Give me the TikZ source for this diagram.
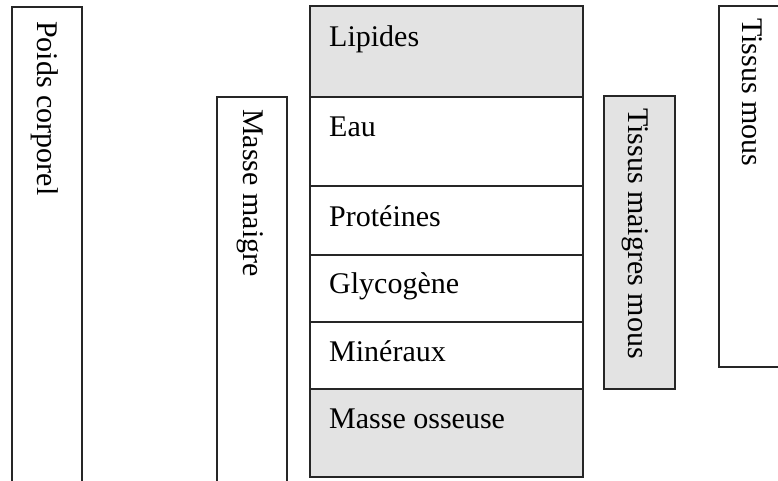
\documentclass[tikz,border=0pt]{standalone}
\usepackage{fontspec}
\setmainfont{Liberation Serif}
\begin{document}
\begin{tikzpicture}[x=1pt,y=-1pt,
  frame/.style={draw=black!85,line width=1.6pt},
  shaded/.style={frame,fill=black!11},
  vlabel/.style={rotate=-90,anchor=base west,inner sep=0pt,font=\fontsize{30}{30}\selectfont},
  hlabel/.style={anchor=base west,inner sep=0pt,font=\fontsize{30}{30}\selectfont}]
\useasboundingbox (0,0) rectangle (778,480);
\fill[white] (0,0) rectangle (778,480);
\clip (0,0) rectangle (778,480);
% side columns
\draw[frame] (12,7) rectangle (82,495);
\draw[frame] (217,97) rectangle (287,495);
\draw[shaded] (604,96) rectangle (675,389);
\draw[frame] (719,6) rectangle (795,367);
% central stack
\draw[shaded] (310,6) rectangle (583,97);
\draw[frame] (310,97) rectangle (583,186);
\draw[frame] (310,186) rectangle (583,255);
\draw[frame] (310,255) rectangle (583,322);
\draw[frame] (310,322) rectangle (583,389);
\draw[shaded] (310,389) rectangle (583,477);
% vertical labels
\node[vlabel] (poids) at (37,21) {Poids corporel};
\node[vlabel] (maigre) at (243,109) {Masse maigre};
\node[vlabel] (tmm) at (628,108) {Tissus maigres mous};
\node[vlabel] (tm) at (742,18) {Tissus mous};
% stack labels
\node[hlabel] (lip) at (329,46) {Lipides};
\node[hlabel] (eau) at (329,136.5) {Eau};
\node[hlabel] (prot) at (329,226.5) {Protéines};
\node[hlabel] (gly) at (329,293.5) {Glycogène};
\node[hlabel] (min) at (329,361.5) {Minéraux};
\node[hlabel] (os) at (329,428.5) {Masse osseuse};
\end{tikzpicture}
\end{document}
